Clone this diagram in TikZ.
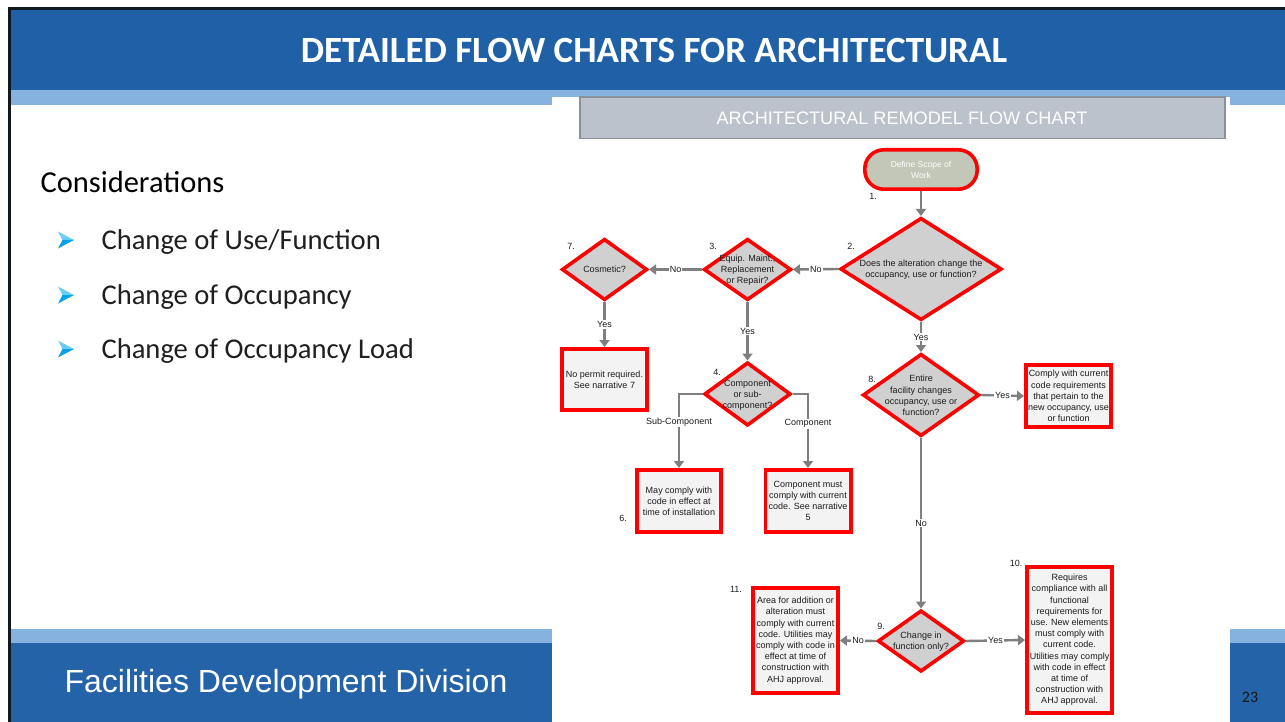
\documentclass[tikz,border=0pt]{standalone}
\usepackage{fontspec}
\setmainfont{Liberation Sans}
\newfontfamily\calibri{Carlito}
\usetikzlibrary{shapes.geometric,arrows.meta}

\definecolor{titleblue}{HTML}{1F60A6}
\definecolor{bandblue}{HTML}{86B2DF}
\definecolor{footblue}{HTML}{2463A7}
\definecolor{framedark}{HTML}{101820}
\definecolor{hdrgray}{HTML}{BCC2CC}
\definecolor{hdredge}{HTML}{8A909A}
\definecolor{flowred}{HTML}{FF0000}
\definecolor{diafill}{HTML}{D0D0D0}
\definecolor{boxfill}{HTML}{F3F3F3}
\definecolor{termfill}{HTML}{C3C7B7}
\definecolor{linkgray}{HTML}{7F7F7F}
\definecolor{flowtext}{HTML}{1C1C1C}
\definecolor{bulletlight}{HTML}{6CCDF6}
\definecolor{bulletdeep}{HTML}{0AA2E6}

\begin{document}
\begin{tikzpicture}[x=1pt,y=-1pt,
  ftext/.style={font=\fontsize{9}{11.2}\selectfont, text=flowtext, align=center, inner sep=0pt},
  decision/.style={diamond, draw=flowred, line width=3.6pt, fill=diafill, inner sep=0pt},
  outcome/.style={rectangle, draw=flowred, line width=3.6pt, fill=boxfill, inner sep=0pt, ftext},
  terminal/.style={rectangle, rounded corners=19pt, draw=flowred, line width=3.6pt, fill=termfill,
    text=white, align=center, font=\fontsize{8.5}{11}\selectfont, inner sep=0pt},
  link/.style={draw=linkgray, line width=2.4pt, -{Triangle[width=10pt,length=7pt]}},
  linklabel/.style={fill=white, inner sep=1pt, font=\fontsize{9}{10}\selectfont, text=flowtext},
  stepno/.style={font=\fontsize{9}{10}\selectfont, text=flowtext, inner sep=0pt},
  bullettext/.style={anchor=base west, font=\calibri\fontsize{28.6}{34}\selectfont, text=black!88},
]

% page and slide bands
\fill[white] (0,0) rectangle (1285,722);
\useasboundingbox (0,0) rectangle (1285,722);
\fill[titleblue] (11,10) rectangle (1285,90);
\fill[bandblue] (11,90) rectangle (1285,105);
\fill[bandblue] (11,629) rectangle (1285,643);
\fill[footblue] (11,643) rectangle (1285,722);
\draw[framedark, line width=3pt] (8,8.5) -- (1285,8.5);
\draw[framedark, line width=3pt] (9.5,7) -- (9.5,722);

% title
\node[anchor=base, text=white, font=\calibri\bfseries\fontsize{37}{44}\selectfont] (title) at (654,63)
  {DETAILED FLOW CHARTS FOR ARCHITECTURAL};

% left column
\node[anchor=base west, font=\calibri\fontsize{30.5}{36}\selectfont, text=black] (consid) at (37,193) {Considerations};
\foreach \yb/\txt/\nm in {249/Change of Use\slash Function/ba, 304/Change of Occupancy/bb, 358/Change of Occupancy Load/bc}{
  \fill[bulletlight] (58,\yb-17.5) -- (74,\yb-9) -- (62.5,\yb-9) -- cycle;
  \fill[bulletdeep] (62.5,\yb-9) -- (74,\yb-9) -- (58,\yb-0.5) -- cycle;
  \node[bullettext] (\nm) at (98,\yb) {\txt};
}

% footer
\node[anchor=base, text=white, font=\fontsize{32}{38}\selectfont] (footer) at (286,692) {Facilities Development Division};
\node[anchor=base, text=black!90, font=\calibri\fontsize{16}{19}\selectfont] (pageno) at (1250,702) {23};

% flow chart panel
\fill[white] (552,97) rectangle (1230,722);
\draw[hdredge, line width=1.5pt, fill=hdrgray] (579.75,97) rectangle (1224.75,138.75);
\node[anchor=base, text=white, font=\fontsize{18.1}{21}\selectfont] (charttitle) at (902,124.5)
  {ARCHITECTURAL REMODEL FLOW CHART};

% shapes
\node[terminal, minimum width=112.4pt, minimum height=39.4pt] (t1) at (921,169.5) {Define Scope of\\Work};

\node[decision, minimum width=161.4pt, minimum height=102.4pt] (d2) at (921,269) {};
\node[ftext] (d2t) at (921,269.5) {Does the alteration change the\\occupancy, use or function?};

\node[decision, minimum width=87.4pt, minimum height=61.4pt] (d3) at (747.5,269.5) {};
\node[ftext] (d3t) at (747.5,270) {Equip. Maint.,\\Replacement\\or Repair?};

\node[decision, minimum width=85.4pt, minimum height=61.4pt] (d7) at (604.5,269.5) {};
\node[ftext] (d7t) at (604.5,269.5) {Cosmetic?};

\node[outcome, minimum width=85.4pt, minimum height=61.4pt] (b7) at (604.5,379.5) {No permit required.\\See narrative 7};

\node[decision, minimum width=86.4pt, minimum height=63.4pt] (d4) at (747.5,394) {};
\node[ftext] (d4t) at (747.5,395) {Component\\or sub-\\component?};

\node[outcome, minimum width=84.4pt, minimum height=62.4pt] (b6) at (679,501) {May comply with\\code in effect at\\time of installation};
\node[outcome, minimum width=85.4pt, minimum height=62.4pt] (b5) at (808,501) {Component must\\comply with current\\code. See narrative\\5};

\node[decision, minimum width=116.4pt, minimum height=82.4pt] (d8) at (921,395) {};
\node[ftext] (d8t) at (921,395.5) {Entire\\facility changes\\occupancy, use or\\function?};

\node[outcome, minimum width=85.4pt, minimum height=62.4pt] (b8) at (1068.5,396) {Comply with current\\code requirements\\that pertain to the\\new occupancy, use\\or function};

\node[decision, minimum width=86.4pt, minimum height=61.4pt] (d9) at (921,641) {};
\node[ftext] (d9t) at (921,641.5) {Change in\\function only?};

\node[outcome, minimum width=85.4pt, minimum height=105.4pt] (b11) at (795.5,640.5)
  {Area for addition or\\alteration must\\comply with current\\code. Utilities may\\comply with code in\\effect at time of\\construction with\\AHJ approval.};
\node[outcome, minimum width=85.4pt, minimum height=146.4pt] (b10) at (1069.5,640)
  {Requires\\compliance with all\\functional\\requirements for\\use. New elements\\must comply with\\current code.\\Utilities may comply\\with code in effect\\at time of\\construction with\\AHJ approval.};

% step numbers
\node[stepno] (n1) at (873,196) {1.};
\node[stepno] (n2) at (851,246) {2.};
\node[stepno] (n3) at (713,246) {3.};
\node[stepno] (n7) at (571,246) {7.};
\node[stepno] (n4) at (717,372) {4.};
\node[stepno] (n8) at (872,379) {8.};
\node[stepno] (n6) at (623,518) {6.};
\node[stepno] (n9) at (881,626) {9.};
\node[stepno] (n11) at (736,589) {11.};
\node[stepno] (n10) at (1016,563) {10.};

% connectors
\draw[link] (t1.south) -- (d2.north);
\draw[link] (d2.west) -- node[linklabel] {No} (d3.east);
\draw[link] (d3.west) -- node[linklabel] {No} (d7.east);
\draw[link] (d7.south) -- node[linklabel] {Yes} (b7.north);
\draw[link] (d3.south) -- node[linklabel] {Yes} (d4.north);
\draw[link] (d4.west) -| node[linklabel, pos=0.69] {Sub-Component} (b6.north);
\draw[link] (d4.east) -| node[linklabel, pos=0.70] {Component} (b5.north);
\draw[link] (d2.south) -- node[linklabel] {Yes} (d8.north);
\draw[link] (d8.east) -- node[linklabel] {Yes} (b8.west);
\draw[link] (d8.south) -- node[linklabel] {No} (d9.north);
\draw[link] (d9.west) -- node[linklabel] {No} (b11.east);
\draw[link] (d9.east) -- node[linklabel] {Yes} (b10.west);

\end{tikzpicture}
\end{document}
